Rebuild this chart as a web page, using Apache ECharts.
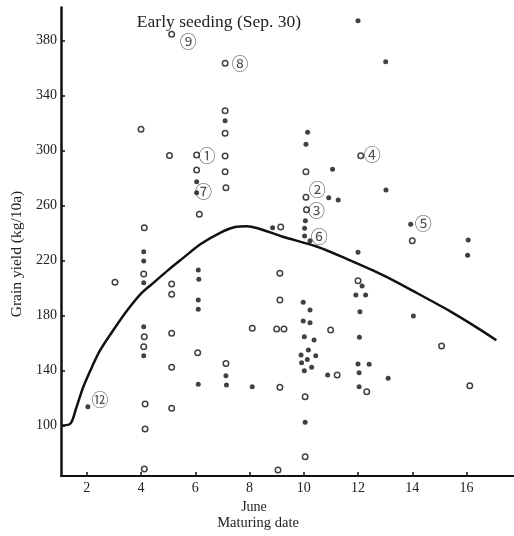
<!DOCTYPE html>
<html>
<head>
<meta charset="utf-8">
<script src="https://cdn.jsdelivr.net/npm/echarts@6/dist/echarts.min.js"></script>
<style>html,body{margin:0;padding:0;background:#fff;}#c{width:514px;height:536px;}</style>
</head>
<body>
<div id="c"></div>
<script>
// Tick labels
const xTicks = [2, 4, 6, 8, 10, 12, 14, 16];
const yTicks = [100, 140, 180, 220, 260, 300, 340, 380];

// Filled dots [maturing date (June), grain yield kg/10a]
const filledPoints = [
  [2.04,113.7],
  [4.1,226.4],[4.1,219.6],[4.1,203.9],[4.1,171.9],[4.1,150.8],
  [6.05,277.3],[6.05,269.3],[6.11,213.1],[6.13,206.3],[6.11,191.3],[6.11,184.5],[6.11,130.1],
  [7.1,321.7],[7.13,136.2],[7.15,129.5],
  [8.1,128.2],[8.85,243.8],
  [9.98,189.7],[10.23,184],[9.98,176],[10.23,174.8],[10.02,164.6],[10.38,162.2],[10.17,155],
  [9.9,151.3],[10.44,150.8],[10.13,148.1],[9.92,145.7],[10.29,142.3],[10.02,139.9],[10.05,102.3],
  [10.14,313.2],[10.08,304.5],[10.06,248.9],[10.03,243.4],[10.03,237.8],[10.23,234.4],
  [10.92,265.7],[11.27,264],[11.06,286.3],[10.88,136.7],
  [12.0,394.4],[13.02,364.6],[13.03,271.3],
  [12.0,226],[12.15,201.5],[11.92,194.9],[12.28,194.9],[12.07,182.8],[12.05,164.2],
  [12.0,144.7],[12.41,144.5],[12.04,138.4],[12.04,128.2],
  [13.11,134.3],[14.04,179.6],[13.94,246.3],[16.06,234.9],[16.04,223.8]
];

// Open circles
const openPoints = [
  [3.04,204.2],
  [4.0,315.4],[4.12,243.9],[4.1,210.2],[4.12,164.6],[4.1,157.3],[4.15,115.6],[4.15,97.5],[4.12,68.4],
  [5.13,384.5],[5.05,296.3],[5.13,202.9],[5.13,195.4],[5.13,167.1],[5.13,142.3],[5.13,112.5],
  [6.05,296.7],[6.05,285.8],[6.15,253.6],[6.09,152.9],
  [7.1,363.4],[7.1,329],[7.1,312.5],[7.1,296],[7.1,284.6],[7.13,273],[7.13,145.2],
  [8.1,170.7],[9.15,244.4],
  [9.12,210.7],[9.12,191.3],[9.0,170.2],[9.27,170.2],[9.12,127.8],[9.05,67.6],
  [10.08,284.6],[10.08,266],[10.1,257],[10.05,121],[10.05,77.3],
  [10.99,169.5],[11.23,136.7],
  [12.1,296.2],[12.0,205.3],[12.32,124.6],
  [14.0,234.4],[15.08,157.8],[16.12,129]
];

// Fitted curve
const curvePoints = [
  [1.05,100],[1.4,101.5],[1.6,112],[1.87,128],[2.2,143],[2.5,155],[3.0,170],[3.5,184],
  [4.0,196],[4.5,204.5],[5.0,213],[5.5,221],[6.2,232],[6.9,240],[7.5,244.5],[7.9,245],
  [8.3,243.5],[9.2,237.5],[10.5,230],[11.6,221],[12.9,209.5],[14.2,196],[15.4,183],
  [16.4,171],[17.1,162]
];

// Circled variety labels [x, y, text]
const labelPoints = [
  [6.43,296.7,'①'],[10.5,271.8,'②'],[10.47,256,'③'],[12.52,297.2,'④'],[14.4,247,'⑤'],
  [10.57,237.3,'⑥'],[6.3,270,'⑦'],[7.65,363.4,'⑧'],[5.74,379.1,'⑨'],[2.49,118.9,'⑫']
];

const titleText = 'Early seeding (Sep. 30)';
const yName = 'Grain yield (kg/10a)';
const xName1 = 'June';
const xName2 = 'Maturing date';

const serif = '"Liberation Serif", "DejaVu Serif", serif';
const ink = '#111';

const chart = echarts.init(document.getElementById('c'), null, {renderer: 'canvas'});
chart.setOption({
  animation: false,
  backgroundColor: '#fff',
  grid: {left: 61, right: 0, top: 7.5, bottom: 60, containLabel: false},
  xAxis: {
    type: 'value', min: 1.05, max: 17.75,
    axisLine: {onZero: false, lineStyle: {color: ink, width: 2}},
    axisTick: {show: true, inside: true, length: 4, customValues: xTicks, lineStyle: {color: ink, width: 1.5}},
    axisLabel: {customValues: xTicks, fontFamily: serif, fontSize: 14, color: '#222', margin: 5},
    splitLine: {show: false}
  },
  yAxis: {
    type: 'value', min: 63.3, max: 404,
    axisLine: {onZero: false, lineStyle: {color: ink, width: 2.5}},
    axisTick: {show: true, inside: true, length: 4, customValues: yTicks, lineStyle: {color: ink, width: 1.5}},
    axisLabel: {customValues: yTicks, fontFamily: serif, fontSize: 14, color: '#222', margin: 4},
    splitLine: {show: false}
  },
  graphic: [
    {type: 'text', x: 219, y: 22, style: {text: titleText, font: '17.5px ' + serif, fill: '#222', align: 'center', verticalAlign: 'middle'}},
    {type: 'text', x: 17, y: 254, rotation: Math.PI / 2, style: {text: yName, font: '15.5px ' + serif, fill: '#222', align: 'center', verticalAlign: 'middle'}},
    {type: 'text', x: 254, y: 507, style: {text: xName1, font: '14px ' + serif, fill: '#222', align: 'center', verticalAlign: 'middle'}},
    {type: 'text', x: 258, y: 523, style: {text: xName2, font: '14.5px ' + serif, fill: '#222', align: 'center', verticalAlign: 'middle'}}
  ],
  series: [
    {
      type: 'line', data: curvePoints, smooth: 0.3, symbol: 'none',
      lineStyle: {color: ink, width: 2.5}, z: 3
    },
    {
      type: 'scatter', data: filledPoints, symbol: 'circle', symbolSize: 5,
      itemStyle: {color: ink}, z: 4
    },
    {
      type: 'scatter', data: openPoints, symbol: 'circle', symbolSize: 5.5,
      itemStyle: {color: '#fff', borderColor: ink, borderWidth: 1.5}, z: 4
    },
    {
      type: 'scatter', data: labelPoints, symbol: 'circle', symbolSize: 2,
      itemStyle: {color: 'rgba(0,0,0,0)'}, z: 5,
      label: {show: true, position: 'inside', formatter: p => p.data[2],
        fontFamily: '"Noto Sans CJK JP", "DejaVu Sans", sans-serif', fontSize: 17, color: '#222'}
    }
  ]
});
</script>
</body>
</html>
